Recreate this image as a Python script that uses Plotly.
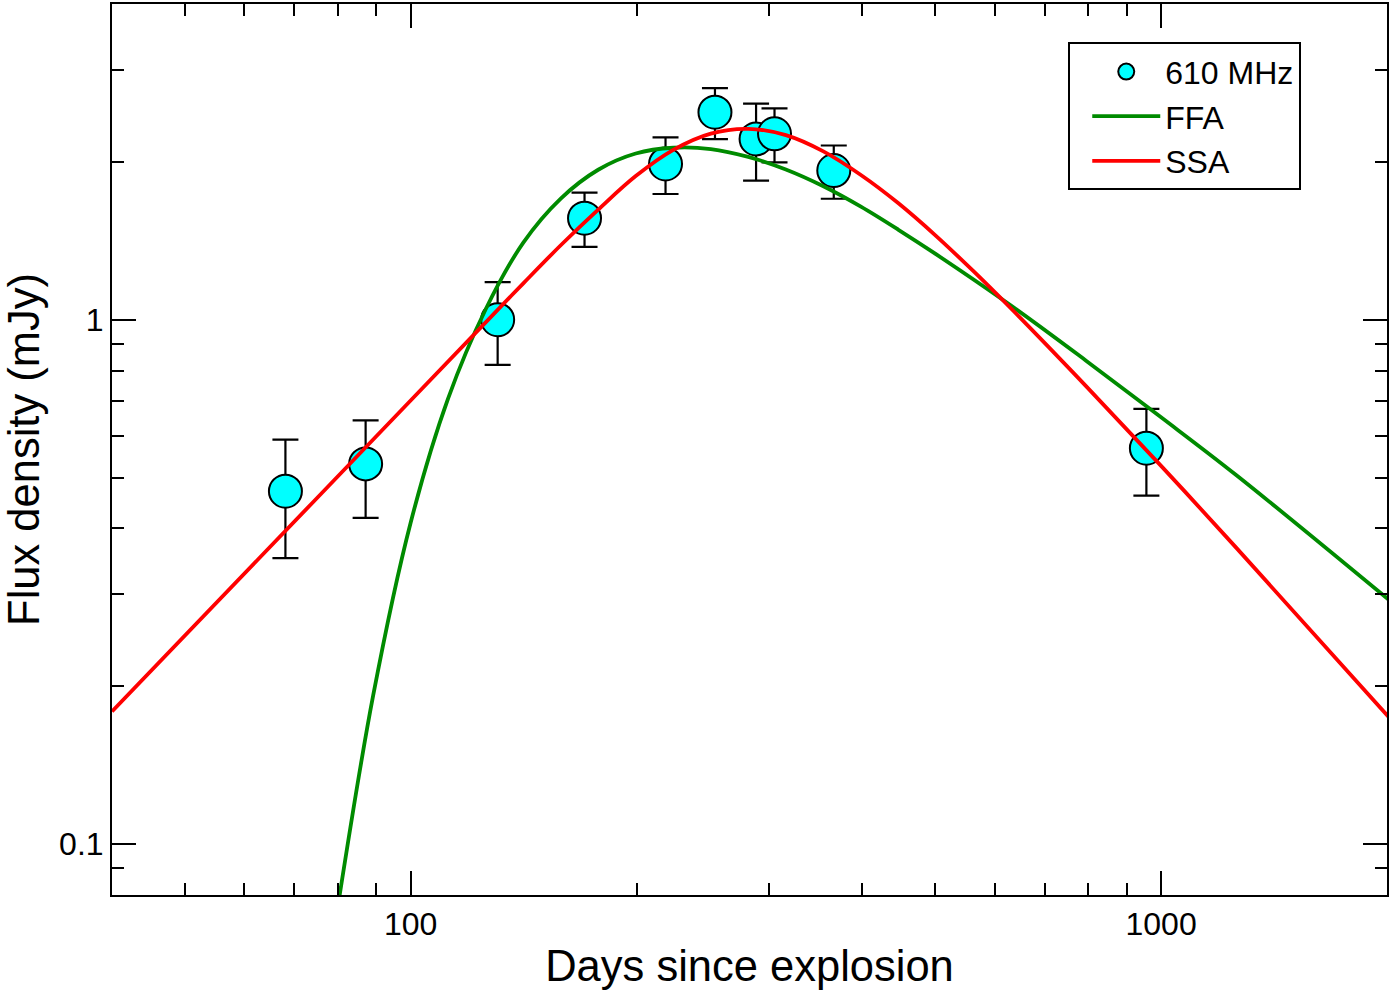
import math
import plotly.graph_objects as go

# ---- data ----
days = [68.1, 87.1, 130.6, 170.5, 218.6, 254.4, 288.6, 305.4, 366.3, 955.9]
flux = [0.471, 0.531, 1.0, 1.562, 1.982, 2.487, 2.212, 2.262, 1.925, 0.569]
flux_err = [0.12, 0.112, 0.18, 0.185, 0.245, 0.277, 0.37, 0.267, 0.224, 0.107]

# FFA model curve
ffa_days = [79.43, 89.13, 100.0, 112.2, 125.9, 141.3, 158.5, 177.8, 199.5, 223.9,
            251.2, 281.8, 316.2, 354.8, 398.1, 446.7, 501.2, 631.0, 794.3, 1000.0,
            1258.9, 2023.0]
ffa_flux = [0.07129, 0.1919, 0.4102, 0.7079, 1.0471, 1.4028, 1.7022, 1.9320, 2.0749, 2.1281,
            2.1159, 2.0440, 1.9343, 1.7969, 1.6429, 1.4842, 1.3335, 1.0641, 0.8356, 0.6516,
            0.5058, 0.2904]

# SSA model curve
ssa_days = [40.0, 63.1, 100.0, 125.9, 141.3, 158.5, 177.8, 199.5, 223.9, 251.2,
            281.8, 316.2, 354.8, 398.1, 446.7, 501.2, 562.3, 631.0, 794.3, 1000.0,
            1258.9, 2023.0]
ssa_flux = [0.1791, 0.3532, 0.7015, 0.9886, 1.1734, 1.3868, 1.6218, 1.8793, 2.1086, 2.2646,
            2.3121, 2.2491, 2.0941, 1.8880, 1.6672, 1.4454, 1.2375, 1.0507, 0.7472, 0.5265,
            0.3677, 0.1730]

x_major = [100, 1000]
x_major_text = ["100", "1000"]
x_minor = [50, 60, 70, 80, 90, 200, 300, 400, 500, 600, 700, 800, 900, 2000]
y_major = [0.1, 1]
y_major_text = ["0.1", "1"]
y_minor = [0.09, 0.2, 0.3, 0.4, 0.5, 0.6, 0.7, 0.8, 0.9, 2, 3, 4]

FONT = "Liberation Sans, Arial, Helvetica, sans-serif"

fig = go.Figure()

fig.add_trace(go.Scatter(
    x=days, y=flux, mode="markers", name="610 MHz",
    marker=dict(size=33, color="#00FFFF", line=dict(color="black", width=2)),
    error_y=dict(type="data", array=flux_err, color="black", thickness=2.2, width=13),
))
fig.add_trace(go.Scatter(
    x=ffa_days, y=ffa_flux, mode="lines", name="FFA",
    line=dict(color="#008B00", width=3.8, shape="spline", smoothing=1.0),
))
fig.add_trace(go.Scatter(
    x=ssa_days, y=ssa_flux, mode="lines", name="SSA",
    line=dict(color="#FF0000", width=3.8, shape="spline", smoothing=1.0),
))

axis_common = dict(
    type="log", showgrid=False, zeroline=False,
    showline=True, linewidth=2, linecolor="black", mirror="allticks",
    ticks="inside", ticklen=24, tickwidth=2, tickcolor="black",
    tickfont=dict(size=32, color="black", family=FONT),
)

fig.update_xaxes(
    **axis_common,
    range=[math.log10(40), math.log10(2000)],
    tickmode="array", tickvals=x_major, ticktext=x_major_text,
    minor=dict(tickmode="array", tickvals=x_minor, ticks="inside", ticklen=12,
               tickwidth=2, tickcolor="black", showgrid=False),
    title=dict(text="Days since explosion", font=dict(size=43.5, color="black", family=FONT),
               standoff=9),
)
fig.update_yaxes(
    **axis_common,
    range=[math.log10(0.08), math.log10(4)],
    tickmode="array", tickvals=y_major, ticktext=y_major_text,
    minor=dict(tickmode="array", tickvals=y_minor, ticks="inside", ticklen=12,
               tickwidth=2, tickcolor="black", showgrid=False),
    title=dict(text="Flux density (mJy)", font=dict(size=43.5, color="black", family=FONT),
               standoff=22),
)

fig.update_layout(
    width=1392, height=994,
    margin=dict(l=112, r=5, t=4, b=99, autoexpand=False),
    plot_bgcolor="white", paper_bgcolor="white",
    font=dict(family=FONT, color="black"),
    showlegend=True,
    legend=dict(
        x=0.75, y=0.957, xanchor="left", yanchor="top",
        bordercolor="black", borderwidth=2, bgcolor="white",
        font=dict(size=32, color="black", family=FONT),
        itemsizing="trace", itemwidth=68, indentation=17,
    ),
)

fig.write_html("out.html")
